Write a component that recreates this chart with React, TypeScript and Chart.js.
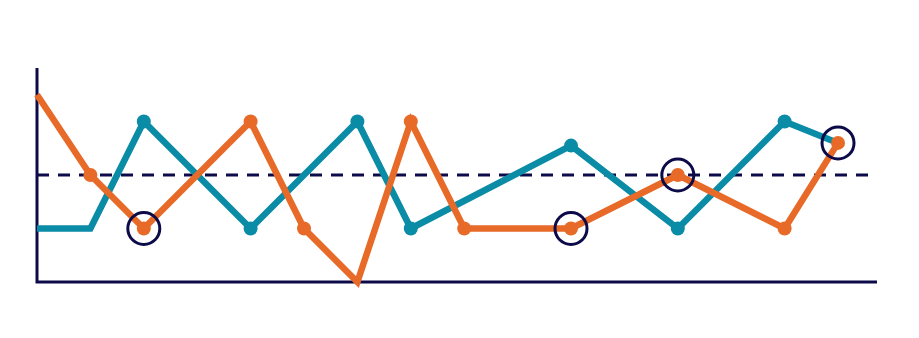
import React, { useEffect, useRef } from "react";
import { Chart, registerables } from "chart.js";

Chart.register(...registerables);

const tealX = [0, 1, 2, 4, 6, 7, 10, 12, 14, 15];
const tealY = [1, 1, 3, 1, 3, 1, 2.55, 1, 3, 2.6];
const tealDots = [0, 0, 7, 7, 7, 7, 7, 7, 7, 0];

const orangeX = [0, 1, 2, 4, 5, 6, 7, 8, 10, 12, 14, 15];
const orangeY = [3.5, 2, 1, 3, 1, 0, 3, 1, 1, 2, 1, 2.6];
const orangeDots = [0, 7, 7, 7, 7, 0, 7, 7, 7, 7, 7, 7];

const highlightX = [2, 10, 12, 15];
const highlightY = [1, 1, 2, 2.6];

const referenceValue = 2;
const xMax = 15.73;
const yMax = 4;

const TEAL = "#0a8ba6";
const ORANGE = "#e86a28";
const NAVY = "#0c0a48";

export default function App() {
  const ref = useRef<HTMLCanvasElement | null>(null);
  useEffect(() => {
    if (!ref.current) return;
    const axesPlugin = {
      id: "axesPlugin",
      beforeDatasetsDraw(chart: any) {
        const { ctx, chartArea } = chart;
        ctx.save();
        ctx.strokeStyle = NAVY;
        ctx.lineWidth = 3;
        ctx.lineCap = "butt";
        ctx.beginPath();
        ctx.moveTo(chartArea.left, chartArea.top);
        ctx.lineTo(chartArea.left, chartArea.bottom);
        ctx.lineTo(chartArea.right, chartArea.bottom);
        ctx.stroke();
        ctx.restore();
      },
    };
    const chart = new Chart(ref.current, {
      type: "line",
      data: {
        datasets: [
          {
            type: "scatter",
            data: highlightX.map((x, i) => ({ x, y: highlightY[i] })),
            pointRadius: 16,
            pointHoverRadius: 16,
            pointBackgroundColor: "rgba(0,0,0,0)",
            pointBorderColor: NAVY,
            pointBorderWidth: 3,
            showLine: false,
            order: 0,
            clip: false,
          } as any,
          {
            data: orangeX.map((x, i) => ({ x, y: orangeY[i] })),
            borderColor: ORANGE,
            backgroundColor: ORANGE,
            borderWidth: 6.5,
            pointRadius: orangeDots,
            pointBorderWidth: 0,
            pointBackgroundColor: ORANGE,
            tension: 0,
            order: 1,
            clip: false,
          } as any,
          {
            data: tealX.map((x, i) => ({ x, y: tealY[i] })),
            borderColor: TEAL,
            backgroundColor: TEAL,
            borderWidth: 6.5,
            pointRadius: tealDots,
            pointBorderWidth: 0,
            pointBackgroundColor: TEAL,
            tension: 0,
            order: 2,
            clip: false,
          } as any,
          {
            data: [
              { x: 0, y: referenceValue },
              { x: xMax, y: referenceValue },
            ],
            borderColor: NAVY,
            borderWidth: 3,
            borderDash: [12, 9],
            pointRadius: 0,
            order: 3,
            clip: false,
          } as any,
        ],
      },
      options: {
        animation: false,
        responsive: false,
        events: [],
        layout: { padding: { left: 37, top: 68, right: 42, bottom: 56 } },
        plugins: { legend: { display: false }, tooltip: { enabled: false } },
        scales: {
          x: { type: "linear", min: 0, max: xMax, display: false },
          y: { type: "linear", min: 0, max: yMax, display: false },
        },
      },
      plugins: [axesPlugin],
    } as any);
    return () => chart.destroy();
  }, []);
  return (
    <div style={{ position: "fixed", left: 0, top: 0, width: 919, height: 338, background: "#fff" }}>
      <canvas ref={ref} width={919} height={338} style={{ display: "block" }} />
    </div>
  );
}
